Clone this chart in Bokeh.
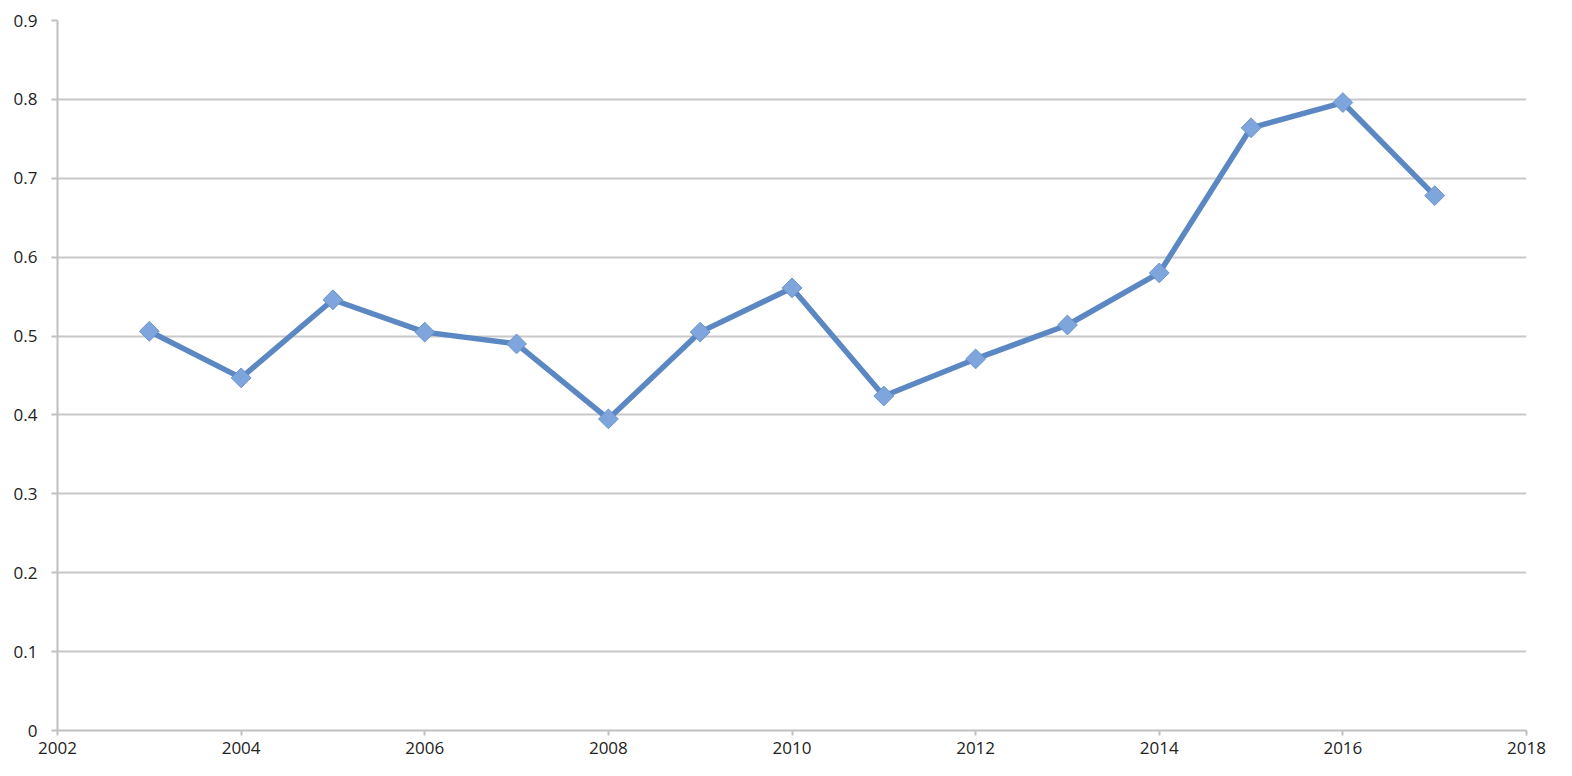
import math
from bokeh.plotting import figure
from bokeh.models import Range1d, FixedTicker
from bokeh.embed import file_html
from bokeh.resources import INLINE

years = [2003, 2004, 2005, 2006, 2007, 2008, 2009, 2010, 2011, 2012, 2013, 2014, 2015, 2016, 2017]
values = [0.506, 0.447, 0.546, 0.505, 0.490, 0.395, 0.505, 0.561, 0.424, 0.471, 0.514, 0.580, 0.764, 0.796, 0.678]
x_ticks = [2002, 2004, 2006, 2008, 2010, 2012, 2014, 2016, 2018]
y_ticks = [0, 0.1, 0.2, 0.3, 0.4, 0.5, 0.6, 0.7, 0.8, 0.9]

p = figure(width=1556, height=760, output_backend="svg", toolbar_location=None,
           x_range=Range1d(2002, 2018), y_range=Range1d(0, 0.9),
           min_border_left=57, min_border_right=30, min_border_top=20, min_border_bottom=30)
p.outline_line_color = None
p.background_fill_color = "white"

p.xaxis.ticker = FixedTicker(ticks=x_ticks)
p.yaxis.ticker = FixedTicker(ticks=y_ticks)
p.yaxis.major_label_overrides = {0: "0"}
p.xgrid.grid_line_color = None
p.ygrid.grid_line_color = "#c8c8c8"
p.ygrid.grid_line_width = 2
for ax in (p.xaxis, p.yaxis):
    ax.axis_line_color = "#c0c0c0"
    ax.axis_line_width = 2
    ax.major_tick_line_color = "#c0c0c0"
    ax.major_tick_line_width = 2
    ax.minor_tick_line_color = None
    ax.major_label_text_font = "Open Sans"
    ax.major_label_text_font_size = "17px"
    ax.major_label_text_color = "#222222"
p.xaxis.major_tick_out = 5
p.xaxis.major_tick_in = 0
p.xaxis.major_label_standoff = 6
p.yaxis.major_tick_out = 6
p.yaxis.major_tick_in = 0
p.yaxis.major_label_standoff = 14

p.line(years, values, line_color="#5b87c3", line_width=5.5)
p.scatter(years, values, marker="square", size=14, angle=math.pi / 4,
          fill_color="#7ea6dd", line_color="#6a93cc", line_width=1)

open("out.html", "w").write(file_html(p, INLINE))
